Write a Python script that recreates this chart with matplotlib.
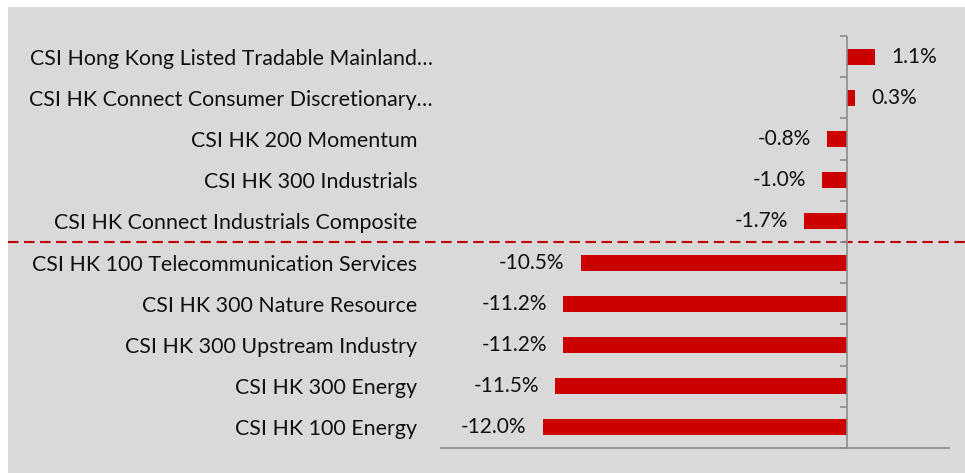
import matplotlib
matplotlib.use("Agg")
import matplotlib.pyplot as plt
import numpy as np
from matplotlib.patches import Rectangle
from matplotlib.lines import TICKLEFT
from matplotlib.transforms import blended_transform_factory, ScaledTranslation

categories = [
    "CSI Hong Kong Listed Tradable Mainland…",
    "CSI HK Connect Consumer Discretionary…",
    "CSI HK 200 Momentum",
    "CSI HK 300 Industrials",
    "CSI HK Connect Industrials Composite",
    "CSI HK 100 Telecommunication Services",
    "CSI HK 300 Nature Resource",
    "CSI HK 300 Upstream Industry",
    "CSI HK 300 Energy",
    "CSI HK 100 Energy",
]
values = [1.1, 0.3, -0.8, -1.0, -1.7, -10.5, -11.2, -11.2, -11.5, -12.0]
value_labels = ["1.1%", "0.3%", "-0.8%", "-1.0%", "-1.7%", "-10.5%", "-11.2%", "-11.2%", "-11.5%", "-12.0%"]

plt.rcParams['font.family'] = ['Lato', 'DejaVu Sans']
FS = 15
FS_CAT = 15.4

W, H = 965, 473
fig = plt.figure(figsize=(W/100, H/100), dpi=100, facecolor='white')
bg = Rectangle((8/W, 0), 1 - 8/W, 1 - 7/H, transform=fig.transFigure,
               facecolor='#d9d9d9', edgecolor='none', zorder=-10)
fig.add_artist(bg)

ax = fig.add_axes([441/W, (H-448)/H, (949-441)/W, (448-36)/H])
ax.set_facecolor('none')
ax.set_zorder(1)

n = len(categories)
ypos = np.arange(n)[::-1]  # top category at top
ax.barh(ypos, values, height=0.39, color='#cc0000', zorder=3)

ax.set_xlim(-16, 4)
ax.set_ylim(-0.5, n - 0.5)

for s in ['left', 'right', 'top']:
    ax.spines[s].set_visible(False)
ax.spines['bottom'].set_color('#8c8c8c')
ax.spines['bottom'].set_linewidth(1.2)
ax.set_xticks([])

ax.set_yticks(ypos)
ax.set_yticklabels(categories, fontsize=FS_CAT, color='#111111')
ax.tick_params(axis='y', length=0, pad=17)
for lab in ax.get_yticklabels():
    if lab.get_text().endswith('…'):
        lab.set_transform(lab.get_transform() + ScaledTranslation(15/100, 0, fig.dpi_scale_trans))

# zero axis line with tick marks at category boundaries
ax.axvline(0, color='#8c8c8c', lw=1.2, zorder=4)
bounds = np.arange(n + 1) - 0.5
ax.plot(np.zeros(n + 1), bounds, ls='none', marker=TICKLEFT, markersize=5,
        markeredgewidth=1.2, color='#8c8c8c', clip_on=False, zorder=4)

# value labels
for y, v, t in zip(ypos, values, value_labels):
    if v >= 0:
        ax.annotate(t, (v, y), xytext=(11.5, 0), textcoords='offset points',
                    ha='left', va='center', fontsize=FS, color='#111111')
    else:
        ax.annotate(t, (v, y), xytext=(-11.5, 0), textcoords='offset points',
                    ha='right', va='center', fontsize=FS, color='#111111')

# dashed separator
tr = blended_transform_factory(fig.transFigure, ax.transData)
ax.plot([8/W, 1.0], [4.5, 4.5], transform=tr, color='#c00000', lw=1.5,
        ls=(0, (5, 2.7)), clip_on=False, zorder=2)

fig.savefig('out.png', dpi=100, facecolor='white')
